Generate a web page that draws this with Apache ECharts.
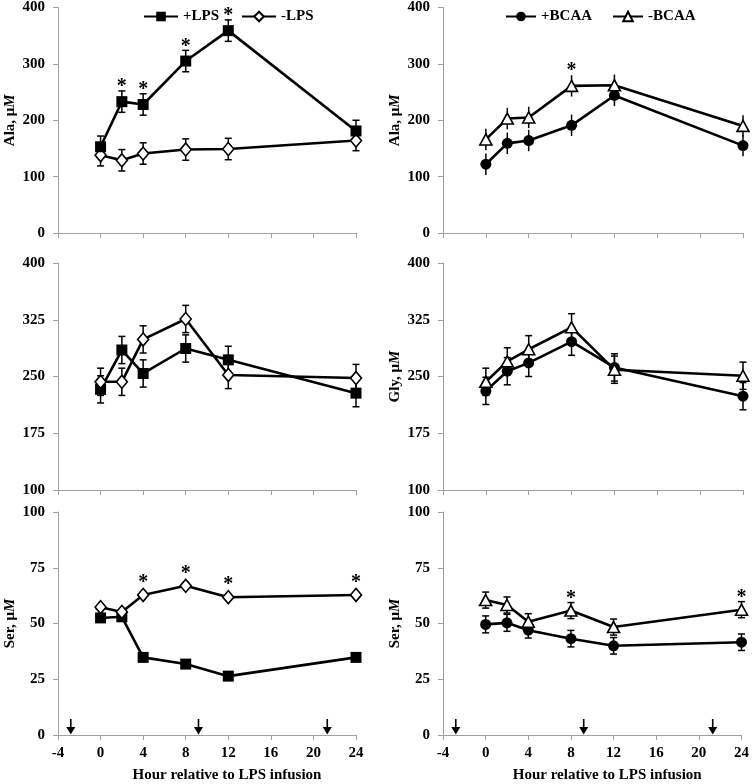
<!DOCTYPE html>
<html>
<head>
<meta charset="utf-8">
<script src="https://cdn.jsdelivr.net/npm/echarts@6/dist/echarts.min.js"></script>
<style>
html,body{margin:0;padding:0;background:#fff;}
#chart{width:752px;height:784px;}
</style>
</head>
<body>
<div id="chart"></div>
<script>
// ---------- data ----------
const hours = [0, 2, 4, 8, 12, 24];
const hourTicks = [-4, 0, 4, 8, 12, 16, 20, 24];
const alaTicks = [0, 100, 200, 300, 400];
const glyTicks = [100, 175, 250, 325, 400];
const serTicks = [0, 25, 50, 75, 100];

const alaLpsPlus = [153, 233, 228, 305, 359, 181];
const alaLpsPlusErr = [19, 19, 19, 19, 19, 19];
const alaLpsMinus = [138, 129, 141, 148, 149, 164];
const alaLpsMinusErr = [19, 19, 19, 19, 19, 18];
const alaBcaaPlus = [122, 159, 164, 191, 244, 155];
const alaBcaaPlusErr = [19, 19, 19, 19, 19, 19];
const alaBcaaMinus = [166, 203, 205, 261, 262, 190];
const alaBcaaMinusErr = [19, 19, 19, 19, 19, 19];
const glyLpsPlus = [233, 285, 254, 287, 272, 228];
const glyLpsPlusErr = [18, 18, 18, 18, 18, 18];
const glyLpsMinus = [243, 243, 299, 326, 252, 248];
const glyLpsMinusErr = [18, 18, 18, 18, 18, 18];
const glyBcaaPlus = [231, 257, 268, 296, 262, 224];
const glyBcaaPlusErr = [18, 18, 18, 18, 18, 18];
const glyBcaaMinus = [243, 270, 286, 315, 259, 251];
const glyBcaaMinusErr = [18, 18, 18, 18, 18, 18];
const serLpsPlus = [52.5, 53, 34.8, 31.8, 26.4, 34.8];
const serLpsPlusErr = [3.7, 3.7, 3.7, 3.7, 3.7, 3.7];
const serLpsMinus = [57.3, 55.2, 62.8, 66.9, 61.8, 62.8];
const serLpsMinusErr = [3.7, 3.7, 3.7, 3.7, 3.7, 3.7];
const serBcaaPlus = [49.6, 50.3, 47, 43.2, 40, 41.6];
const serBcaaPlusErr = [3.8, 3.8, 3.5, 3.7, 3.7, 3.7];
const serBcaaMinus = [60.5, 58.3, 50.8, 55.8, 48.4, 56.2];
const serBcaaMinusErr = [3.6, 3.6, 3.6, 3.6, 3.6, 3.6];

const alaLpsStars = [2, 4, 8, 12];
const alaBcaaStars = [8];
const serLpsStars = [4, 8, 12, 24];
const serBcaaStars = [8, 24];
const arrowHours = [-2.8, 9.2, 21.3];

const FONT = "'Liberation Serif','Times New Roman',serif";
const AXIS_COLOR = '#a0a0a0';

const grids = [
  {left: 58, top: 7, width: 298, height: 226},
  {left: 443, top: 7, width: 300, height: 226},
  {left: 58, top: 263, width: 298, height: 227},
  {left: 443, top: 263, width: 300, height: 227},
  {left: 58, top: 512, width: 298, height: 227},
  {left: 443, top: 512, width: 300, height: 227}
];
const panelY = [
  {name: 'Ala', ticks: alaTicks}, {name: 'Ala', ticks: alaTicks},
  {name: 'Gly', ticks: glyTicks}, {name: 'Gly', ticks: glyTicks},
  {name: 'Ser', ticks: serTicks}, {name: 'Ser', ticks: serTicks}
];

const xAxes = grids.map((g, i) => {
  const bottom = i >= 4;
  const ax = {
    type: 'value', gridIndex: i, position: 'bottom',
    min: hourTicks[0], max: hourTicks[hourTicks.length - 1], interval: hourTicks[1] - hourTicks[0],
    axisLine: {show: true, onZero: false, lineStyle: {color: AXIS_COLOR, width: 1}},
    axisTick: {show: true, length: 5, lineStyle: {color: AXIS_COLOR}},
    axisLabel: {show: bottom, margin: 11, color: '#000', fontFamily: FONT, fontWeight: 'bold', fontSize: 15},
    splitLine: {show: false}
  };
  if (bottom) {
    ax.name = 'Hour relative to LPS infusion';
    ax.nameLocation = 'middle';
    ax.nameGap = 33;
    ax.nameTextStyle = {color: '#000', fontFamily: FONT, fontWeight: 'bold', fontSize: 15,
      padding: [0, 0, 0, i === 4 ? 40 : 30]};
  }
  return ax;
});

const yAxes = grids.map((g, i) => {
  const t = panelY[i].ticks;
  const step = t[1] - t[0];
  const ax = {
    type: 'value', gridIndex: i, position: 'left', min: t[0], max: t[t.length - 1],
    axisLine: {show: true, onZero: false, lineStyle: {color: AXIS_COLOR, width: 1}},
    axisTick: {show: true, length: 5, lineStyle: {color: AXIS_COLOR}},
    axisLabel: {show: true, margin: 13, color: '#000', fontFamily: FONT, fontWeight: 'bold', fontSize: 15},
    splitLine: {show: false}
  };
  if (i !== 2) {
    ax.name = '{n|' + panelY[i].name + ', μ}{m|M}';
    ax.nameLocation = 'middle';
    ax.nameGap = 40;
    ax.nameRotate = 90;
    ax.nameTextStyle = {rich: {
      n: {color: '#000', fontFamily: FONT, fontWeight: 'bold', fontSize: 15},
      m: {color: '#000', fontFamily: FONT, fontWeight: 'bold', fontStyle: 'italic', fontSize: 15}
    }};
  }
  if (t[0] % step === 0) {
    ax.interval = step;
  } else {
    ax.axisTick.customValues = t;
    ax.axisLabel.customValues = t;
  }
  return ax;
});

const series = [];
const styles = {
  '+LPS': {symbol: 'rect', size: 11, fill: '#000'},
  '-LPS': {symbol: 'diamond', size: [11, 13], fill: '#fff'},
  '+BCAA': {symbol: 'circle', size: 11, fill: '#000'},
  '-BCAA': {symbol: 'triangle', size: [12, 11], fill: '#fff'}
};

// variants per grid (diagnostic): 1 = no caps, 3 = unnamed lines, 4 = no error bars, 5 = lines before bars
function errSeries(idx, vals, errs) {
  const caps = idx !== 1;
  return {
    type: 'custom', xAxisIndex: idx, yAxisIndex: idx, silent: true,
    data: hours.map((h, k) => [h, vals[k], errs[k]]),
    renderItem: function (params, api) {
      const x = api.value(0), y = api.value(1), e = api.value(2);
      const top = api.coord([x, y + e]);
      const bot = api.coord([x, y - e]);
      const ch = [{type: 'line', shape: {x1: top[0], y1: top[1], x2: bot[0], y2: bot[1]}, style: {stroke: '#000', lineWidth: 1.5}}];
      if (caps) {
        ch.push({type: 'line', shape: {x1: top[0] - 3.5, y1: top[1], x2: top[0] + 3.5, y2: top[1]}, style: {stroke: '#000', lineWidth: 1.5}});
        ch.push({type: 'line', shape: {x1: bot[0] - 3.5, y1: bot[1], x2: bot[0] + 3.5, y2: bot[1]}, style: {stroke: '#000', lineWidth: 1.5}});
      }
      return {type: 'group', children: ch};
    }
  };
}
function lineSeries(idx, name, vals) {
  const st = styles[name];
  const itemStyle = {color: st.fill};
  if (st.fill === '#fff') { itemStyle.borderColor = '#000'; itemStyle.borderWidth = 1.6; }
  const s = {
    type: 'line', xAxisIndex: idx, yAxisIndex: idx, z: 3,
    data: hours.map((h, k) => [h, vals[k]]),
    symbol: st.symbol, symbolSize: st.size,
    lineStyle: {color: '#000', width: 2.6},
    itemStyle: itemStyle,
    emphasis: {disabled: true}
  };
  if (idx !== 3) s.name = name;
  return s;
}
function addSeries(idx, name, vals, errs) {
  if (idx === 5) {
    series.push(lineSeries(idx, name, vals));
    series.push(errSeries(idx, vals, errs));
  } else {
    if (idx !== 4) series.push(errSeries(idx, vals, errs));
    series.push(lineSeries(idx, name, vals));
  }
}
function addStars(idx, starHours, vals, errs) {
  series.push({
    type: 'custom', xAxisIndex: idx, yAxisIndex: idx, silent: true, clip: false,
    data: starHours.map(h => { const k = hours.indexOf(h); return [h, vals[k] + errs[k]]; }),
    renderItem: function (params, api) {
      const p = api.coord([api.value(0), api.value(1)]);
      return {type: 'text', x: p[0], y: p[1] - 14,
        style: {text: '*', fill: '#000', font: 'bold 20px ' + FONT, align: 'center', verticalAlign: 'top'}};
    }
  });
}
function addArrows(idx) {
  series.push({
    type: 'custom', xAxisIndex: idx, yAxisIndex: idx, silent: true, clip: false,
    data: arrowHours.map(h => [h, 0]),
    renderItem: function (params, api) {
      const p = api.coord([api.value(0), api.value(1)]);
      return {type: 'group', children: [
        {type: 'line', shape: {x1: p[0], y1: p[1] - 16, x2: p[0], y2: p[1] - 6}, style: {stroke: '#000', lineWidth: 1.6}},
        {type: 'polygon', shape: {points: [[p[0] - 4.5, p[1] - 8], [p[0] + 4.5, p[1] - 8], [p[0], p[1] - 0.5]]}, style: {fill: '#000'}}
      ]};
    }
  });
}

addSeries(0, '-LPS', alaLpsMinus, alaLpsMinusErr);
addSeries(0, '+LPS', alaLpsPlus, alaLpsPlusErr);
addStars(0, alaLpsStars, alaLpsPlus, alaLpsPlusErr);
addSeries(1, '+BCAA', alaBcaaPlus, alaBcaaPlusErr);
addSeries(1, '-BCAA', alaBcaaMinus, alaBcaaMinusErr);
addStars(1, alaBcaaStars, alaBcaaMinus, alaBcaaMinusErr);
addSeries(2, '+LPS', glyLpsPlus, glyLpsPlusErr);
addSeries(2, '-LPS', glyLpsMinus, glyLpsMinusErr);
addSeries(3, '+BCAA', glyBcaaPlus, glyBcaaPlusErr);
addSeries(3, '-BCAA', glyBcaaMinus, glyBcaaMinusErr);
addSeries(4, '+LPS', serLpsPlus, serLpsPlusErr);
addSeries(4, '-LPS', serLpsMinus, serLpsMinusErr);
addStars(4, serLpsStars, serLpsMinus, serLpsMinusErr);
addArrows(4);
addSeries(5, '+BCAA', serBcaaPlus, serBcaaPlusErr);
addSeries(5, '-BCAA', serBcaaMinus, serBcaaMinusErr);
addStars(5, serBcaaStars, serBcaaMinus, serBcaaMinusErr);
addArrows(5);

const legendText = {color: '#000', fontFamily: FONT, fontWeight: 'bold', fontSize: 15};
const option = {
  animation: false,
  backgroundColor: '#fff',
  grid: grids,
  xAxis: xAxes,
  yAxis: yAxes,
  legend: [
    {data: ['+LPS', '-LPS'], left: 138, top: 4, itemWidth: 34, itemHeight: 12, itemGap: 22,
      textStyle: legendText, selectedMode: false},
    {data: ['+BCAA', '-BCAA'], left: 500, top: 4, itemWidth: 30, itemHeight: 12, itemGap: 20,
      textStyle: legendText, selectedMode: false}
  ],
  series: series
};
const chart = echarts.init(document.getElementById('chart'), null, {renderer: 'canvas'});
chart.setOption(option);
</script>
</body>
</html>
